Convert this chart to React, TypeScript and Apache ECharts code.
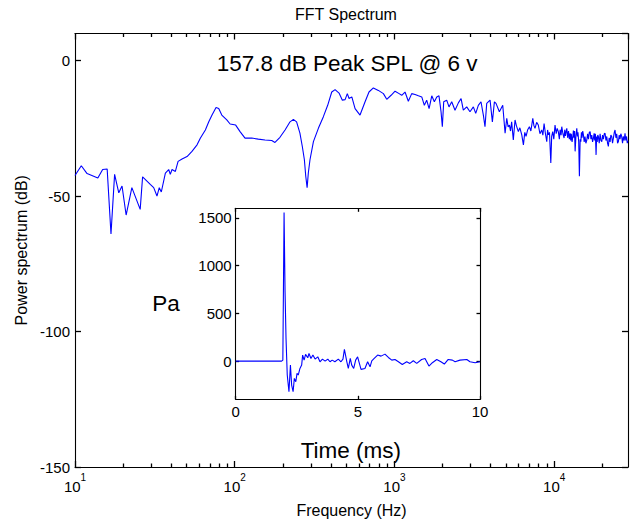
import React, { useEffect, useRef } from 'react';
import * as echarts from 'echarts';

// FFT spectrum (Hz, dB)
const fftFreq = [
  10, 10.95, 11.9, 13.9, 14.9, 15.9, 16.8, 17.7, 18.8, 19.7, 20.9, 22.7, 25.6, 26.5, 29.6, 31.1, 32.6, 33.7, 34.7,
  36.8, 38.6, 39.5, 40.5, 42.5, 44.2, 46.8, 50.3, 54, 58.1, 61, 65.5, 68.8, 72.1, 76.4, 79.4, 83, 89.2, 93.6,
  101.4, 108, 116, 127.8, 140.5, 154.8, 170.5, 178.7, 192, 206.6, 222, 233, 244, 256, 265, 273, 278.5, 284, 289,
  296, 311, 334, 359, 382, 405, 425, 450, 472, 491, 507, 520, 541, 567, 609, 655, 693, 738, 793, 853, 895, 953,
  1009, 1070, 1111, 1165, 1222, 1283, 1346, 1413, 1483, 1539, 1592, 1648, 1713, 1778, 1841, 1901, 1958, 1995,
  2035, 2125, 2196, 2284, 2395, 2514, 2614, 2700, 2835, 2972, 3120, 3228, 3352, 3483, 3604, 3690, 3783, 3970,
  4104, 4226, 4325, 4540, 4766, 4930, 5050, 5150, 5250, 5330, 5420, 5550, 5690, 5800, 5970, 6100, 6270, 6420,
  6550, 6670, 6830, 7000, 7150, 7350, 7470, 7590, 7770, 7960, 8150, 8360, 8500, 8650, 8820, 8990, 9100, 9200,
  9350, 9530, 9650, 9800, 9950,
  10130, 10300, 10450, 10620, 10780, 10900, 11050, 11160, 11350, 11540, 11650, 11770, 11900, 12000, 12150,
  12300, 12450, 12590, 12700, 12800, 12950, 13090, 13200, 13300, 13420, 13530, 13700, 13860, 13980, 14100,
  14250, 14390, 14550, 14690, 14820, 14950, 15100, 15250, 15420, 15600, 15800, 16010, 16200, 16400, 16600,
  16800, 17000, 17200, 17400, 17620, 17800, 17950, 18120, 18300, 18450, 18600, 18750, 18920, 19150, 19400,
  19620, 19870, 20100, 20350, 20600, 20840, 21100, 21350, 21600, 21850, 22100, 22400, 22650, 22940, 23200,
  23500, 23800, 24060, 24350, 24650, 24950, 25250, 25550, 25850, 26150, 26480, 26800, 27100, 27450, 27780,
  28100, 28400, 28700, 29000,
];
const fftDb = [
  -42.4, -38.8, -41.7, -43.3, -40.2, -40.0, -64.0, -42.0, -48.8, -46.3, -57.0, -46.9, -54.9, -42.9, -45.7, -46.9, -50.0, -46.9, -48.5,
  -41.5, -40.2, -42.0, -40.2, -40.9, -37.2, -36.3, -35.4, -33.5, -31.1, -28.6, -25.6, -22.6, -20.1, -17.3, -17.7, -20.1, -21.9, -23.4,
  -23.8, -26.2, -28.6, -28.6, -29.0, -29.3, -29.5, -30.2, -28.3, -25.6, -22.6, -21.7, -22.6, -26.8, -31.7, -36.6, -42.7, -46.9, -41.5,
  -36.6, -29.9, -25.0, -20.7, -16.5, -11.6, -10.7, -12.0, -14.6, -14.4, -12.2, -14.0, -13.4, -17.7, -20.1, -15.2, -11.6, -10.1, -11.0, -12.2, -14.3, -12.8,
  -11.3, -12.2, -12.8, -11.6, -15.0, -12.2, -12.5, -13.0, -13.4, -16.5, -14.6, -17.7, -13.0, -15.2, -13.4, -13.0, -18.9, -24.4,
  -15.2, -14.6, -17.1, -15.2, -18.3, -15.6, -14.0, -18.3, -17.1, -18.9, -17.1, -19.5, -16.5, -15.2, -20.1, -24.4, -15.8, -14.6,
  -22.6, -15.2, -15.8, -18.9, -16.5, -26.8, -21.3, -24.5, -23.8, -26.0, -22.6, -29.3, -21.9, -24.0, -26.2, -24.8, -27.4, -31.1,
  -26.5, -28.0, -25.5, -24.4, -26.0, -21.3, -24.0, -25.0, -22.8, -23.8, -27.0, -25.6, -27.5, -23.2, -27.0, -29.9, -25.6, -27.4,
  -26.5, -37.8, -28.0, -26.2, -29.0,
  -23.8, -27.0, -25.0, -26.2, -29.0, -25.5, -27.5, -24.4, -27.0, -28.6, -25.5, -27.8, -26.0, -25.0, -28.5,
  -26.0, -29.0, -26.8, -29.5, -27.0, -30.0, -28.0, -25.8, -28.5, -26.0, -33.5, -27.5, -25.0, -28.0, -26.5,
  -30.0, -42.7, -29.0, -29.9, -26.5, -28.5, -26.0, -27.4, -30.0, -28.0, -30.5, -29.3, -27.0, -29.0, -26.5,
  -26.2, -29.0, -27.5, -30.0, -28.6, -26.8, -29.5, -27.0, -34.8, -28.0, -30.0, -27.5, -28.0, -30.5, -27.0,
  -29.5, -29.9, -27.5, -29.0, -27.0, -26.8, -29.5, -28.0, -30.5, -31.7, -28.5, -30.0, -27.5, -28.0, -30.5,
  -28.5, -26.5, -25.6, -28.5, -27.0, -30.5, -29.9, -27.5, -29.0, -27.0, -28.0, -30.5, -28.0, -29.5, -26.8,
  -29.5, -28.0, -30.5, -29.5,
];

// Inset pressure trace (ms, Pa)
const timeMs = [
  0, 1.88, 1.93, 1.98, 2.02, 2.06, 2.11, 2.18, 2.24, 2.29, 2.35, 2.4, 2.46, 2.51, 2.56, 2.63, 2.7, 2.74, 2.8,
  2.86, 2.95, 3.0, 3.08, 3.16, 3.25, 3.36, 3.45, 3.55, 3.66, 3.77, 3.86, 3.95, 4.06, 4.2, 4.31, 4.39, 4.45,
  4.55, 4.61, 4.69, 4.75, 4.83, 4.91, 4.99, 5.13, 5.29, 5.4, 5.5, 5.57, 5.67, 5.81, 5.95, 6.11, 6.25, 6.39,
  6.52, 6.66, 6.82, 7.0, 7.13, 7.27, 7.41, 7.61, 7.75, 7.91, 8.05, 8.23, 8.4, 8.54, 8.7, 8.87, 8.98, 9.18,
  9.46, 9.59, 9.8, 10,
];
const pressurePa = [
  0, 0, 10, 1555, 725, 237, -146, -321, -42, -251, -321, -181, -216, -129, -146, -77, -42, 63, 10,
  70, 35, 80, 28, 63, 21, 45, -7, 21, 0, 21, -7, 10, -7, 21, -7, 21, 122,
  -7, -77, 28, -42, -77, 10, 45, -87, -77, -7, -60, 3, 28, 63, 52, 73, 38, 10,
  17, -7, -35, -7, -24, 3, -24, 17, 28, -52, -17, 17, -7, -31, 17, 10, -7, 10,
  17, -7, -17, -7,
];

const freqMinor = [20, 30, 40, 50, 60, 70, 80, 90, 200, 300, 400, 500, 600, 700, 800, 900,
  2000, 3000, 4000, 5000, 6000, 7000, 8000, 9000, 20000];
const insetYTicks = [0, 500, 1000, 1500];

const FONT = '"Liberation Sans", Arial, Helvetica, sans-serif';
const BLUE = '#0000ff';

export default function App() {
  const ref = useRef<HTMLDivElement>(null);
  useEffect(() => {
    const chart = echarts.init(ref.current as HTMLDivElement, null, { renderer: 'svg' });
    const tick = () => ({ color: '#000', width: 1.3 });
    const boxLine = () => ({ show: true, onZero: false, lineStyle: { color: '#000', width: 1.1 } });
    const noLine = () => ({ show: false, onZero: false });
    const mainX = () => ({ type: 'log', logBase: 10, gridIndex: 0, min: 10, max: 29000, splitLine: { show: false } });
    const decadeLabel = (v: number) => `{b|10}{s|${Math.round(Math.log10(v))}}`;
    const option: any = {
      animation: false,
      backgroundColor: '#fff',
      title: {
        text: 'FFT Spectrum', left: 295, top: 6, padding: 0,
        textStyle: { fontSize: 16, fontWeight: 'normal', color: '#000', fontFamily: FONT },
      },
      grid: [
        { left: 75, top: 33.5, width: 553, height: 436.5 },
        { left: 235.7, top: 208.3, width: 244.3, height: 191 },
      ],
      xAxis: [
        {
          ...mainX(), position: 'bottom',
          axisLine: boxLine(),
          axisTick: { show: true, inside: true, length: 6, lineStyle: tick() },
          axisLabel: {
            formatter: decadeLabel, showMaxLabel: false, showMinLabel: true, margin: 5, color: '#000',
            rich: {
              b: { fontSize: 15, lineHeight: 22, verticalAlign: 'bottom', color: '#000', fontFamily: FONT },
              s: { fontSize: 10, verticalAlign: 'top', color: '#000', fontFamily: FONT },
            },
          },
          name: 'Frequency (Hz)', nameLocation: 'middle', nameGap: 35,
          nameTextStyle: { fontSize: 16, color: '#000', fontFamily: FONT },
        },
        {
          ...mainX(), position: 'bottom', axisLine: noLine(), axisLabel: { show: false },
          axisTick: { show: true, inside: true, length: 3.5, lineStyle: tick(), customValues: freqMinor },
        },
        {
          ...mainX(), position: 'top', axisLine: boxLine(), axisLabel: { show: false },
          axisTick: { show: true, inside: true, length: 6, lineStyle: tick() },
        },
        {
          ...mainX(), position: 'top', axisLine: noLine(), axisLabel: { show: false },
          axisTick: { show: true, inside: true, length: 3.5, lineStyle: tick(), customValues: freqMinor },
        },
        {
          type: 'value', gridIndex: 1, min: 0, max: 10, interval: 5, position: 'bottom',
          axisLine: boxLine(), splitLine: { show: false },
          axisTick: { show: true, inside: true, length: 3.5, lineStyle: tick() },
          axisLabel: { margin: 5, fontSize: 15, color: '#000', fontFamily: FONT },
          name: 'Time (ms)', nameLocation: 'middle', nameGap: 40,
          nameTextStyle: { fontSize: 22.5, color: '#000', fontFamily: FONT, padding: [0, 14, 0, 0] },
        },
        {
          type: 'value', gridIndex: 1, min: 0, max: 10, interval: 5, position: 'top',
          axisLine: boxLine(), splitLine: { show: false }, axisLabel: { show: false },
          axisTick: { show: true, inside: true, length: 3.5, lineStyle: tick() },
        },
      ],
      yAxis: [
        {
          type: 'value', gridIndex: 0, min: -150, max: 10, interval: 50, position: 'left',
          axisLine: boxLine(), splitLine: { show: false },
          axisTick: { show: true, inside: true, length: 6, lineStyle: tick() },
          axisLabel: { showMaxLabel: false, margin: 5, fontSize: 15, color: '#000', fontFamily: FONT },
          name: 'Power spectrum (dB)', nameLocation: 'middle', nameGap: 46, nameRotate: 90,
          nameTextStyle: { fontSize: 16, color: '#000', fontFamily: FONT },
        },
        {
          type: 'value', gridIndex: 0, min: -150, max: 10, interval: 50, position: 'right',
          axisLine: boxLine(), splitLine: { show: false }, axisLabel: { show: false },
          axisTick: { show: true, inside: true, length: 6, lineStyle: tick() },
        },
        {
          type: 'value', gridIndex: 1, min: -400, max: 1600, position: 'left',
          axisLine: boxLine(), splitLine: { show: false },
          axisTick: { show: true, inside: true, length: 3.5, lineStyle: tick(), customValues: insetYTicks },
          axisLabel: {
            margin: 4, fontSize: 15, color: '#000', fontFamily: FONT, customValues: insetYTicks,
            formatter: (v: number) => String(v),
          },
          name: 'Pa', nameLocation: 'middle', nameGap: 56, nameRotate: 0,
          nameTextStyle: { fontSize: 22.5, color: '#000', fontFamily: FONT, padding: [10, 0, 0, 0] },
        },
        {
          type: 'value', gridIndex: 1, min: -400, max: 1600, position: 'right',
          axisLine: boxLine(), splitLine: { show: false }, axisLabel: { show: false },
          axisTick: { show: true, inside: true, length: 3.5, lineStyle: tick(), customValues: insetYTicks },
        },
      ],
      graphic: [
        {
          type: 'text', left: 216.7, top: 52, z: 100,
          style: { text: '157.8 dB Peak SPL @ 6 v', font: `22.5px ${FONT}`, fill: '#000' },
        },
      ],
      series: [
        {
          type: 'line', xAxisIndex: 0, yAxisIndex: 0, symbol: 'none', clip: true,
          lineStyle: { color: BLUE, width: 1.1 },
          data: fftFreq.map((f, i) => [f, fftDb[i]]),
        },
        {
          type: 'line', xAxisIndex: 4, yAxisIndex: 2, symbol: 'none', clip: true,
          lineStyle: { color: BLUE, width: 1.1 },
          data: timeMs.map((t, i) => [t, pressurePa[i]]),
        },
      ],
    };
    chart.setOption(option);
    return () => chart.dispose();
  }, []);
  return (
    <div
      ref={ref}
      style={{ position: 'fixed', left: 0, top: 0, width: 630, height: 523, background: '#fff' }}
    />
  );
}
